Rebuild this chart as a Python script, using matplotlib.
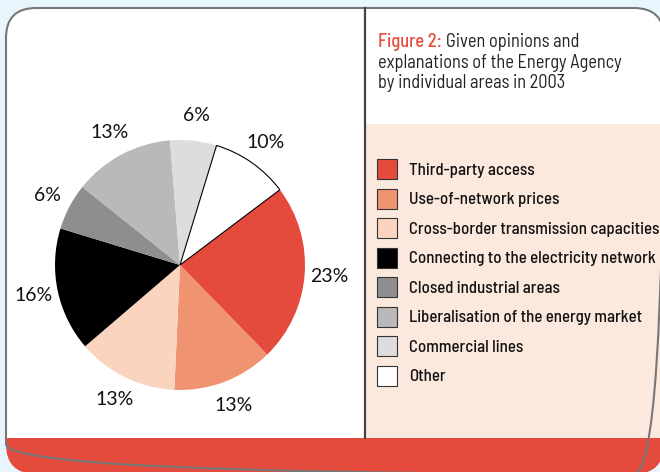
import matplotlib.pyplot as plt
from matplotlib.patches import FancyBboxPatch, Rectangle, Patch

# data
categories = ['Third-party access', 'Use-of-network prices',
              'Cross-border transmission capacities',
              'Connecting to the electricity network',
              'Closed industrial areas',
              'Liberalisation of the energy market',
              'Commercial lines', 'Other']
shares = [23, 13, 13, 16, 6, 13, 6, 10]
colors = ['#e44b3c', '#f09370', '#fad4be', '#000000',
          '#8e8e8e', '#b9b9b9', '#dddddd', '#ffffff']
title_lines = ['Given opinions and', 'explanations of the Energy Agency',
               'by individual areas in 2003']

W, H = 660, 472
narrow = ['Barlow Semi Condensed', 'Roboto Condensed', 'DejaVu Sans']
fig = plt.figure(figsize=(W / 100, H / 100), dpi=100)
fig.patch.set_facecolor('#e9f5fc')

# background frame, drawn in pixel units
bg = fig.add_axes([0, 0, 1, 1])
bg.set_xlim(0, W)
bg.set_ylim(H, 0)
bg.axis('off')


def fit_size(s, target_px, weight):
    # font size that makes string s about target_px wide
    t = bg.text(0, 0, s, fontsize=10, family=narrow, fontweight=weight)
    w = t.get_window_extent(renderer=fig.canvas.get_renderer()).width
    t.remove()
    return 10 * target_px / w


bx, by, bw, bh = 6, 8, 658, 466
box = FancyBboxPatch((bx, by), bw, bh, boxstyle='round,pad=0,rounding_size=30',
                     facecolor='white', edgecolor='none')
bg.add_patch(box)
peach = Rectangle((366, 124), 310, 314, facecolor='#fce9de', edgecolor='none')
bg.add_patch(peach)
peach.set_clip_path(box)
red = Rectangle((0, 438), 680, 50, facecolor='#e44b3c', edgecolor='none')
bg.add_patch(red)
red.set_clip_path(box)
bg.plot([365, 365], [8, 438], color='#444444', lw=1.6)
border = FancyBboxPatch((bx, by), bw, bh, boxstyle='round,pad=0,rounding_size=30',
                        facecolor='none', edgecolor='#777777', lw=1.5)
bg.add_patch(border)

# title
ts = fit_size(title_lines[1], 248, 'medium')
t1 = bg.text(378, 42, 'Figure 2:', color='#e44b3c', fontsize=ts,
             family=narrow, fontweight='medium', va='center')
ext = t1.get_window_extent(renderer=fig.canvas.get_renderer())
bg.text(378 + ext.width + 4, 42, title_lines[0], color='#222222',
        fontsize=ts, family=narrow, va='center')
bg.text(378, 62.5, title_lines[1], color='#222222',
        fontsize=ts, family=narrow, va='center')
bg.text(378, 83, title_lines[2], color='#222222',
        fontsize=ts, family=narrow, va='center')

# pie
cx, cy, r = 180, 265, 125
ax = fig.add_axes([(cx - r) / W, (H - cy - r) / H, 2 * r / W, 2 * r / H])
wedges, _, autotexts = ax.pie(shares, colors=colors, startangle=37,
                              counterclock=False, autopct='%d%%',
                              pctdistance=1.2, radius=1,
                              wedgeprops=dict(linewidth=0))
wedges[-1].set_edgecolor('black')
wedges[-1].set_linewidth(0.8)
for t in autotexts:
    t.set_family(['Lato', 'DejaVu Sans'])
    t.set_fontsize(14)
    t.set_color('#111111')
ax.set_xlim(-1, 1)
ax.set_ylim(-1, 1)

# legend
ls = fit_size(categories[3], 246, 'medium')
fpx = ls * 100 / 72
hh = (20 - 0.245 * fpx) / 0.65 / fpx
handles = [Patch(facecolor=c, edgecolor='#333333', linewidth=0.8) for c in colors]
leg = fig.legend(handles, categories, loc='upper left',
                 bbox_to_anchor=(377 / W, 1 - 159 / H), frameon=False,
                 prop={'family': narrow, 'size': ls, 'weight': 'medium'},
                 handlelength=20 / fpx, handleheight=hh,
                 handletextpad=12 / fpx, labelspacing=9.5 / fpx,
                 borderpad=0, borderaxespad=0)
for t in leg.get_texts():
    t.set_color('#111111')

fig.savefig('out.png', dpi=100, facecolor=fig.get_facecolor())
